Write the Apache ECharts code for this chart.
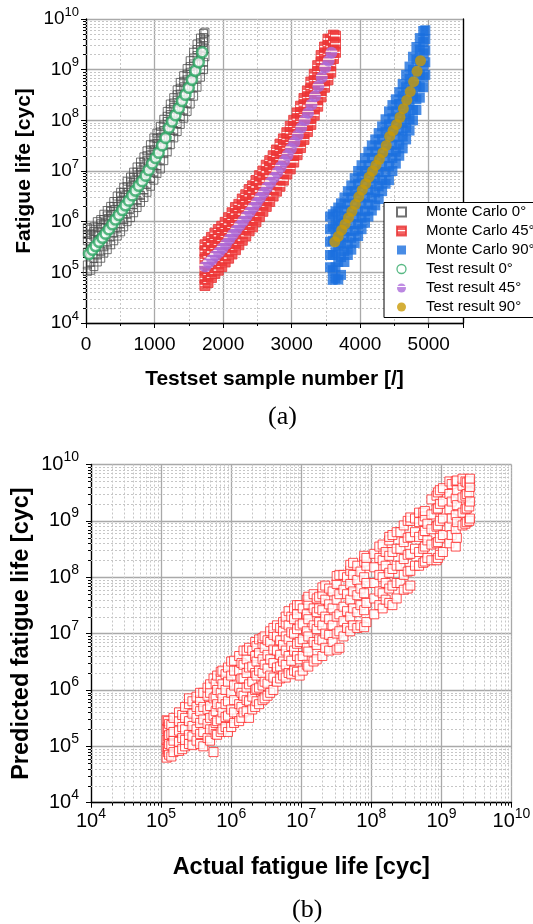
<!DOCTYPE html>
<html><head><meta charset="utf-8">
<script src="https://cdn.jsdelivr.net/npm/echarts@6/dist/echarts.min.js"></script>
<style>html,body{margin:0;padding:0;background:#fff}#c{width:533px;height:924px}</style>
</head><body><div id="c"></div><script>
// ---------- DATA: chart (a) ----------
const seriesNames = ['Monte Carlo 0°','Monte Carlo 45°','Monte Carlo 90°','Test result 0°','Test result 45°','Test result 90°'];
const xTickValuesA = [0,1000,2000,3000,4000,5000];

const test0X = [45,95,140,190,240,285,335,385,430,480,530,575,625,675,720,770,820,870,915,965,1015,1060,1110,1160,1210,1255,1305,1355,1400,1450,1500,1545,1595,1645,1695];
const test0Y = [2.3e5,2.8e5,3.3e5,4.0e5,4.8e5,5.8e5,7.1e5,8.9e5,1.1e6,1.35e6,1.7e6,2.1e6,2.6e6,3.3e6,4.1e6,5.1e6,6.3e6,8.1e6,1.05e7,1.4e7,1.8e7,2.3e7,3.2e7,4.5e7,7.1e7,9.5e7,1.26e8,1.74e8,2.4e8,3.2e8,4.4e8,6.3e8,9.5e8,1.4e9,2.2e9];

const test45X = [1740,1790,1840,1890,1940,1990,2040,2090,2140,2190,2240,2290,2340,2390,2440,2490,2540,2590,2640,2690,2740,2790,2840,2890,2940,2990,3040,3090,3140,3190,3240,3290,3340,3390,3440,3490,3540,3580];
const test45Y = [1.3e5,1.55e5,1.8e5,2.15e5,2.5e5,3.0e5,3.6e5,4.5e5,5.5e5,6.8e5,8.3e5,1.02e6,1.26e6,1.55e6,1.9e6,2.35e6,2.95e6,3.7e6,4.7e6,5.9e6,7.4e6,9.3e6,1.2e7,1.55e7,2.05e7,2.75e7,3.7e7,5.1e7,7.1e7,1.0e8,1.4e8,2.05e8,3.0e8,4.7e8,7.1e8,1.1e9,1.5e9,2.15e9];

const test90X = [3630,3680,3730,3780,3830,3880,3930,3980,4030,4080,4130,4180,4230,4280,4330,4380,4430,4480,4530,4580,4630,4680,4730,4780,4830,4880];
const test90Y = [4.0e5,5.1e5,6.8e5,8.9e5,1.2e6,1.6e6,2.2e6,3.1e6,4.2e6,5.6e6,7.6e6,1.0e7,1.3e7,1.7e7,2.3e7,3.2e7,4.8e7,6.3e7,8.3e7,1.15e8,1.7e8,2.5e8,3.7e8,5.8e8,9.3e8,1.5e9];

// Monte Carlo rows: [sample number, predicted lives...]
const mc0Rows = [
[20,7.6e5,4.2e5,2.5e5,1.4e5,1.05e5,5.6e5],[70,7.1e5,4.6e5,2.8e5,1.6e5,1.1e5,5.7e5],[115,7.9e5,5.2e5,3.2e5,1.9e5,1.3e5,6.4e5],
[165,1.0e6,6.0e5,4.2e5,2.2e5,1.6e5,7.8e5],[215,1.1e6,7.6e5,4.6e5,2.6e5,1.9e5,9.1e5],[260,1.4e6,8.9e5,5.6e5,3.2e5,2.4e5,1.1e6],
[310,1.66e6,1.05e6,6.9e5,3.8e5,2.8e5,1.3e6],[360,2.0e6,1.3e6,8.3e5,5.0e5,3.5e5,1.6e6],[405,2.5e6,1.6e6,1.05e6,6.0e5,4.2e5,2.0e6],
[455,3.2e6,2.0e6,1.26e6,7.6e5,5.2e5,2.5e6],[505,3.8e6,2.5e6,1.66e6,9.1e5,6.3e5,3.1e6],[550,4.8e6,3.0e6,2.0e6,1.1e6,7.9e5,3.8e6],
[600,6.3e6,3.8e6,2.5e6,1.4e6,1.0e6,4.9e6],[650,7.6e6,4.8e6,3.2e6,1.8e6,1.2e6,6.0e6],[695,9.5e6,6.0e6,4.0e6,2.2e6,1.5e6,7.5e6],
[745,1.2e7,7.6e6,5.0e6,2.6e6,1.9e6,9.5e6],[795,1.5e7,9.5e6,6.3e6,3.3e6,2.4e6,1.2e7],[845,1.9e7,1.2e7,7.9e6,4.2e6,3.0e6,1.5e7],
[890,2.5e7,1.6e7,1.0e7,5.5e6,3.8e6,2.0e7],[940,3.3e7,2.1e7,1.3e7,7.2e6,5.0e6,2.6e7],[990,4.5e7,2.6e7,1.8e7,9.5e6,6.6e6,3.4e7],
[1035,5.6e7,3.5e7,2.3e7,1.26e7,8.9e6,4.4e7],[1085,7.6e7,4.6e7,3.0e7,1.66e7,1.1e7,5.9e7],[1135,1.05e8,6.3e7,4.2e7,2.2e7,1.6e7,8.1e7],
[1185,1.5e8,9.5e7,6.3e7,3.3e7,2.4e7,1.2e8],[1230,2.1e8,1.3e8,8.9e7,4.8e7,3.3e7,1.65e8],[1280,2.8e8,1.8e8,1.2e8,6.3e7,4.5e7,2.2e8],
[1330,4.0e8,2.5e8,1.66e8,8.7e7,6.0e7,3.2e8],[1375,5.6e8,3.3e8,2.2e8,1.2e8,8.3e7,4.3e8],[1425,7.6e8,4.6e8,3.0e8,1.6e8,1.1e8,5.9e8],
[1475,1.05e9,6.3e8,4.2e8,2.2e8,1.5e8,8.1e8],[1520,1.5e9,8.9e8,5.8e8,3.2e8,2.1e8,1.15e9],[1570,2.2e9,1.3e9,8.3e8,4.5e8,3.0e8,1.7e9],
[1620,3.2e9,1.9e9,1.26e9,6.6e8,4.5e8,2.5e9],[1670,4.2e9,2.8e9,1.9e9,1.0e9,7.1e8,3.4e9],[1715,5.2e9,3.5e9,2.4e9,1.4e9,1.0e9,4.3e9],
[1735,5.5e9,4.0e9,2.6e9,1.8e9]
];
const mc45Rows = [
[1735,2.6e5,1.8e5,1.1e5,7.6e4,5.5e4,3.5e5],[1780,3.0e5,2.0e5,1.3e5,8.9e4,6.3e4,4.0e5],[1830,3.6e5,2.5e5,1.6e5,1.05e5,7.9e4,4.9e5],
[1880,4.4e5,2.9e5,1.9e5,1.26e5,9.5e4,5.9e5],[1930,5.2e5,3.5e5,2.2e5,1.45e5,1.1e5,7.0e5],[1980,6.0e5,4.2e5,2.6e5,1.7e5,1.3e5,8.1e5],
[2030,7.2e5,5.0e5,3.2e5,2.1e5,1.6e5,9.7e5],[2080,8.9e5,6.0e5,3.8e5,2.5e5,1.9e5,1.2e6],[2130,1.1e6,7.6e5,4.8e5,3.2e5,2.3e5,1.5e6],
[2180,1.4e6,9.1e5,5.8e5,3.8e5,2.8e5,1.9e6],[2230,1.66e6,1.1e6,7.2e5,4.8e5,3.5e5,2.2e6],[2280,2.1e6,1.4e6,8.7e5,5.8e5,4.3e5,2.8e6],
[2330,2.5e6,1.7e6,1.1e6,7.2e5,5.2e5,3.4e6],[2380,3.2e6,2.1e6,1.3e6,8.9e5,6.6e5,4.3e6],[2430,3.8e6,2.6e6,1.66e6,1.1e6,7.9e5,5.1e6],
[2480,4.8e6,3.2e6,2.0e6,1.3e6,1.0e6,6.5e6],[2530,6.0e6,4.0e6,2.5e6,1.66e6,1.26e6,8.1e6],[2580,7.6e6,5.0e6,3.2e6,2.1e6,1.6e6,1.0e7],
[2630,9.5e6,6.3e6,4.0e6,2.6e6,2.0e6,1.3e7],[2680,1.2e7,7.9e6,5.0e6,3.3e6,2.5e6,1.6e7],[2730,1.5e7,1.0e7,6.3e6,4.2e6,3.2e6,2.0e7],
[2780,1.9e7,1.26e7,7.9e6,5.2e6,4.0e6,2.6e7],[2830,2.5e7,1.66e7,1.05e7,6.9e6,5.0e6,3.4e7],[2880,3.2e7,2.1e7,1.3e7,8.9e6,6.6e6,4.3e7],
[2930,4.2e7,2.8e7,1.7e7,1.15e7,8.7e6,5.7e7],[2980,5.6e7,3.6e7,2.3e7,1.5e7,1.1e7,7.6e7],[3030,7.6e7,5.0e7,3.2e7,2.0e7,1.5e7,1.0e8],
[3080,1.05e8,6.9e7,4.4e7,2.8e7,2.1e7,1.4e8],[3130,1.4e8,9.5e7,6.0e7,4.0e7,2.9e7,1.9e8],[3180,2.0e8,1.3e8,8.3e7,5.5e7,4.2e7,2.7e8],
[3230,2.8e8,1.9e8,1.2e8,7.9e7,6.0e7,3.8e8],[3280,4.2e8,2.8e8,1.7e8,1.1e8,8.3e7,5.7e8],[3330,6.0e8,4.0e8,2.5e8,1.66e8,1.26e8,8.1e8],
[3380,9.1e8,6.0e8,3.8e8,2.5e8,1.9e8,1.2e9],[3430,1.4e9,9.1e8,5.8e8,3.8e8,2.9e8,1.9e9],[3480,2.1e9,1.4e9,8.9e8,6.0e8,4.5e8,2.8e9],
[3530,3.0e9,2.0e9,1.26e9,8.3e8,6.3e8,4.0e9],[3570,4.0e9,2.8e9,1.8e9,1.2e9,8.9e8],[3610,4.8e9,3.5e9,2.4e9,1.66e9],
[3640,4.6e9,3.2e9,2.2e9]
];
const mc90Rows = [
[3560,1.26e6,7.1e5,4.0e5,2.2e5,1.26e5],[3600,1.4e6,7.9e5,4.2e5,2.2e5,1.1e5,7.1e4],[3640,1.6e6,8.9e5,5.0e5,2.5e5,1.26e5,7.6e4],
[3680,1.9e6,1.05e6,6.0e5,3.2e5,1.6e5,7.2e4],[3720,2.3e6,1.26e6,7.2e5,3.8e5,2.0e5,8.9e4],[3770,3.0e6,1.66e6,9.5e5,5.0e5,2.6e5,1.6e5],
[3820,4.0e6,2.2e6,1.26e6,6.6e5,3.5e5,2.2e5],[3870,5.2e6,3.0e6,1.66e6,8.9e5,4.8e5,2.8e5],[3920,7.2e6,4.0e6,2.3e6,1.26e6,6.6e5,3.8e5],
[3970,1.0e7,5.6e6,3.2e6,1.66e6,8.9e5,5.2e5],[4020,1.3e7,7.6e6,4.2e6,2.3e6,1.2e6,7.1e5],[4070,1.8e7,1.0e7,5.8e6,3.0e6,1.6e6,9.5e5],
[4120,2.4e7,1.3e7,7.6e6,4.2e6,2.2e6,1.26e6],[4170,3.2e7,1.8e7,1.0e7,5.6e6,3.0e6,1.66e6],[4220,4.2e7,2.4e7,1.3e7,7.2e6,3.8e6,2.1e6],
[4270,5.6e7,3.2e7,1.8e7,9.5e6,5.0e6,2.8e6],[4320,7.6e7,4.2e7,2.3e7,1.26e7,6.6e6,4.0e6],[4370,1.05e8,6.0e7,3.3e7,1.8e7,9.5e6,5.6e6],
[4420,1.5e8,8.3e7,4.8e7,2.5e7,1.26e7,6.6e6],[4470,2.0e8,1.1e8,6.3e7,3.3e7,1.8e7,1.0e7],[4520,2.6e8,1.5e8,8.3e7,4.6e7,2.4e7,1.4e7],
[4570,3.6e8,2.1e8,1.15e8,6.3e7,3.3e7,2.0e7],[4620,5.2e8,3.0e8,1.66e8,8.9e7,4.8e7,2.8e7],[4670,7.9e8,4.5e8,2.5e8,1.3e8,7.1e7,4.2e7],
[4720,1.15e9,6.6e8,3.6e8,2.0e8,1.05e8,6.3e7],[4770,1.8e9,1.0e9,5.6e8,3.0e8,1.6e8,1.0e8],[4820,2.8e9,1.6e9,8.9e8,4.8e8,2.6e8,1.6e8],
[4870,4.2e9,2.5e9,1.45e9,7.9e8,4.5e8,2.8e8],[4920,5.8e9,3.5e9,2.1e9,1.2e9,7.1e8,4.5e8],[4950,6.0e9,4.0e9,2.4e9,1.4e9,7.9e8]
];

// ---------- DATA: chart (b) rows: [actual life, predicted lives...] ----------
const predRows = [
[1.2e5,6.3e4,9.5e4,1.3e5,2.0e5,2.9e5],[1.25e5,7.9e4,1.0e5,1.5e5,2.2e5,2.8e5],[1.3e5,7.1e4,1.1e5,1.6e5,2.5e5],
[1.4e5,6.6e4,1.05e5,1.66e5,2.4e5],[1.5e5,7.9e4,1.26e5,1.8e5,3.2e5],[1.8e5,8.3e4,1.2e5,1.9e5,2.8e5,4.0e5],
[2.0e5,8.9e4,1.4e5,2.2e5,3.6e5],[2.2e5,1.0e5,1.3e5,2.0e5,3.2e5,5.0e5],[2.5e5,1.1e5,1.6e5,2.8e5,5.6e5,7.1e5],
[2.8e5,1.05e5,1.5e5,2.3e5,3.8e5,6.3e5],[3.2e5,1.26e5,2.0e5,3.2e5,5.0e5,7.6e5],[3.6e5,1.1e5,1.66e5,2.6e5,4.2e5,6.6e5,8.9e5],
[4.0e5,1.0e5,1.8e5,3.0e5,5.0e5,8.9e5],[4.6e5,1.4e5,2.5e5,4.5e5,7.9e5,1.1e6],[5.0e5,1.26e5,2.0e5,3.2e5,5.2e5,8.9e5,1.26e6],
[5.6e5,7.9e4,2.0e5,3.5e5,7.1e5,1.6e6],[6.0e5,1.66e5,2.6e5,4.2e5,7.6e5,1.3e6],[6.3e5,1.6e5,2.8e5,5.6e5,1.0e6,1.8e6],
[7.1e5,1.8e5,3.0e5,5.0e5,8.9e5,1.6e6,2.1e6],[7.5e5,2.0e5,4.0e5,7.1e5,1.26e6,2.2e6],[8.3e5,2.2e5,3.3e5,5.6e5,1.0e6,1.9e6],
[9.0e5,1.8e5,3.5e5,6.3e5,1.4e6,2.5e6],[1.0e6,2.2e5,4.5e5,8.9e5,1.8e6,3.2e6],[1.1e6,2.6e5,4.0e5,6.6e5,1.2e6,2.2e6,3.3e6],
[1.3e6,2.8e5,5.6e5,1.1e6,2.2e6,4.0e6],[1.4e6,3.2e5,5.0e5,8.9e5,1.6e6,3.0e6],[1.5e6,4.0e5,7.9e5,1.6e6,2.8e6,5.0e6],
[1.66e6,4.2e5,6.6e5,1.1e6,2.0e6,3.5e6,5.0e6],[1.8e6,3.2e5,6.3e5,1.26e6,2.5e6,5.6e6],[2.0e6,4.5e5,7.6e5,1.4e6,2.6e6,5.0e6],
[2.2e6,5.0e5,1.0e6,2.0e6,4.0e6,7.1e6],[2.3e6,6.3e5,1.05e6,1.8e6,3.2e6,6.0e6],[2.5e6,5.6e5,1.1e6,2.2e6,4.5e6,7.9e6],
[2.8e6,6.6e5,1.2e6,2.0e6,3.5e6,6.6e6,8.3e6],[3.0e6,7.1e5,1.4e6,2.8e6,5.6e6,8.9e6],[3.3e6,7.9e5,1.3e6,2.4e6,4.2e6,7.6e6],
[3.6e6,8.9e5,1.8e6,3.5e6,7.1e6,1.1e7],[4.0e6,1.0e6,1.66e6,3.0e6,5.2e6,9.5e6,1.26e7],[4.5e6,1.4e6,2.5e6,5.0e6,8.9e6,1.4e7],
[5.0e6,1.6e6,2.6e6,4.2e6,7.6e6,1.26e7],[5.5e6,1.8e6,3.2e6,6.3e6,1.1e7,1.6e7],[6.0e6,1.66e6,2.8e6,5.0e6,8.9e6,1.5e7,2.0e7],
[6.6e6,2.0e6,4.0e6,7.9e6,1.4e7,2.5e7],[7.2e6,1.9e6,3.3e6,6.0e6,1.05e7,2.0e7],[7.9e6,2.2e6,5.0e6,1.0e7,1.8e7,2.8e7],
[8.7e6,2.1e6,4.0e6,6.6e6,1.2e7,2.2e7,3.2e7],[9.5e6,1.8e6,3.5e6,7.1e6,1.4e7,3.2e7],[1.05e7,2.2e6,4.0e6,7.9e6,1.5e7,2.8e7],
[1.2e7,2.8e6,5.6e6,1.1e7,2.2e7,4.0e7],[1.26e7,2.6e6,4.8e6,8.9e6,1.8e7,3.3e7,4.5e7],[1.5e7,3.2e6,7.1e6,1.4e7,2.8e7,5.0e7],
[1.66e7,3.5e6,6.3e6,1.2e7,2.4e7,4.2e7],[1.8e7,7.9e6,1.6e7,2.8e7,4.5e7],[2.0e7,4.0e6,7.6e6,1.4e7,2.6e7,5.0e7,6.6e7],
[2.2e7,5.6e6,1.0e7,2.0e7,4.0e7,7.1e7],[2.5e7,5.0e6,9.5e6,1.8e7,3.3e7,6.3e7],[2.8e7,7.1e6,1.4e7,2.8e7,5.6e7],
[3.2e7,5.2e6,1.0e7,2.0e7,4.0e7,7.6e7,1.05e8],[3.5e7,5.6e6,1.1e7,2.2e7,5.0e7,1.1e8],[4.0e7,8.9e6,1.66e7,3.0e7,6.0e7,1.1e8],
[4.5e7,1.26e7,2.5e7,5.0e7,1.0e8],[5.0e7,1.1e7,2.0e7,4.0e7,7.6e7,1.3e8,1.66e8],[5.5e7,1.4e7,2.8e7,5.6e7,1.1e8,1.8e8],
[6.3e7,1.26e7,2.4e7,4.8e7,8.9e7,1.6e8],[7.0e7,1.4e7,3.2e7,6.3e7,1.26e8],[7.9e7,1.3e7,2.6e7,5.2e7,1.0e8,1.9e8,2.4e8],
[8.5e7,1.6e7,3.5e7,7.9e7,1.6e8,2.2e8],[1.1e8,2.2e7,4.2e7,7.9e7,1.5e8,2.6e8],[1.3e8,3.2e7,5.6e7,1.1e8,2.2e8,3.5e8],
[1.45e8,2.8e7,5.2e7,1.0e8,2.0e8,3.8e8],[1.6e8,4.0e7,7.9e7,1.6e8,2.8e8],[1.8e8,3.5e7,6.3e7,1.2e8,2.4e8,4.5e8,5.2e8],
[2.0e8,3.2e7,7.1e7,1.4e8,2.8e8,5.6e8],[2.3e8,4.2e7,7.9e7,1.6e8,3.2e8,6.3e8],[2.6e8,7.9e7,1.6e8,3.2e8,6.3e8],
[2.9e8,6.0e7,1.1e8,2.1e8,4.2e8,8.3e8],[3.3e8,6.3e7,1.26e8,2.5e8,5.0e8,1.0e9],[3.6e8,7.1e7,1.3e8,2.6e8,5.2e8,1.0e9,1.15e9],
[4.2e8,1.6e8,3.2e8,6.3e8,1.1e9],[4.8e8,1.6e8,2.8e8,5.2e8,9.5e8,1.4e9],[5.5e8,1.8e8,3.2e8,5.6e8,1.0e9,1.4e9],
[5.8e8,1.9e8,3.5e8,6.6e8,1.2e9,1.5e9],[6.3e8,2.2e8,4.5e8,8.9e8],[7.2e8,2.0e8,3.8e8,7.1e8,1.3e9,2.4e9],
[8.5e8,2.0e8,4.0e8,7.9e8,1.6e9,2.8e9],[8.9e8,2.2e8,4.2e8,8.3e8,1.66e9,3.2e9],[9.5e8,2.5e8,5.0e8,1.0e9,2.0e9,3.5e9],
[1.05e9,2.8e8,5.6e8,1.1e9,2.2e9,3.8e9],[1.3e9,4.0e8,7.9e8,1.6e9,3.0e9,5.0e9],[1.4e9,5.6e8,1.1e9,2.2e9,4.5e9],
[1.6e9,3.5e8,7.1e8,1.26e9,2.5e9,5.0e9],[1.66e9,5.0e8,9.5e8,1.9e9,3.5e9,5.2e9],[2.0e9,8.3e8,1.4e9,2.6e9,4.2e9,5.6e9],
[2.2e9,8.9e8,1.6e9,2.8e9,5.0e9],[2.3e9,9.5e8,1.66e9,3.0e9,4.8e9],[2.5e9,1.0e9,1.8e9,3.2e9,5.0e9],
[2.55e9,1.1e9,2.2e9,4.0e9,5.6e9]
];

// ---------- helpers ----------
const FONT = '"Liberation Sans", Arial, sans-serif';
function rowsToPoints(rows){ const p=[]; rows.forEach(r=>{ for(let i=1;i<r.length;i++) p.push([r[0], r[i]]); }); return p; }
function zip(xs, ys){ return xs.map((x,i)=>[x, ys[i]]); }
function pow10(v){ const e = Math.round(Math.log10(v)); return '{b|10}{s|' + e + '}'; }
function richSup(bs, ss, pad){ return {
  b:{fontFamily:FONT, fontSize:bs, lineHeight:bs, color:'#000', verticalAlign:'middle'},
  s:{fontFamily:FONT, fontSize:ss, lineHeight:ss, color:'#000', verticalAlign:'middle', padding:[0,0,pad,0]} }; }
// minor (2..9 x 10^n) positions for log axes
const minorLog = [];
for (let e = 4; e < 10; e++) for (let m = 2; m <= 9; m++) minorLog.push(m * Math.pow(10, e));
const minorLinA = [500,1500,2500,3500,4500];

function minorSeries(xi, yi, data, dir, tick){
  return { type:'custom', xAxisIndex:xi, yAxisIndex:yi, silent:true, z:1, clip:false, animation:false,
    data:data,
    renderItem:function(params, api){
      const cs = params.coordSys;
      const p = api.coord([api.value(0), api.value(1)]);
      const dash = {stroke:'#c6c6c6', lineWidth:1, lineDash:[2,2]};
      const tk = {stroke:'#000', lineWidth:1};
      if (dir === 'y') {
        const y = Math.round(p[1]) + 0.5;
        return {type:'group', children:[
          {type:'line', shape:{x1:cs.x, y1:y, x2:cs.x+cs.width, y2:y}, style:dash},
          {type:'line', shape:{x1:cs.x-tick, y1:y, x2:cs.x, y2:y}, style:tk}]};
      }
      const x = Math.round(p[0]) + 0.5;
      return {type:'group', children:[
        {type:'line', shape:{x1:x, y1:cs.y, x2:x, y2:cs.y+cs.height}, style:dash},
        {type:'line', shape:{x1:x, y1:cs.y+cs.height, x2:x, y2:cs.y+cs.height+tick}, style:tk}]};
    }
  };
}

const RED = '#f03a3a', PURPLE = '#b070dc';
const redFill = {type:'linear', x:0, y:0, x2:0, y2:1, colorStops:[
  {offset:0,color:RED},{offset:0.42,color:RED},{offset:0.44,color:'#ffffff'},{offset:0.53,color:'#ffffff'},{offset:0.55,color:RED},{offset:1,color:RED}]};
const purpleFill = {type:'linear', x:0, y:0, x2:0, y2:1, colorStops:[
  {offset:0,color:PURPLE},{offset:0.30,color:PURPLE},{offset:0.32,color:'#ffffff'},{offset:0.42,color:'#ffffff'},{offset:0.44,color:PURPLE},{offset:1,color:'#a766d8'}]};

const axisLineBlack = {show:true, lineStyle:{color:'#000', width:1.3}};
const majorSplit = {show:true, lineStyle:{color:'#a9a9a9', width:1.3}};
const nameStyleA = {fontFamily:FONT, fontSize:21, fontWeight:'bold', color:'#000'};
const nameStyleB = {fontFamily:FONT, fontSize:23.5, fontWeight:'bold', color:'#000'};

const chart = echarts.init(document.getElementById('c'), null, {renderer:'canvas'});
chart.setOption({
  animation:false,
  backgroundColor:'#fff',
  title:[
    {text:'(a)', left:263, top:399, textStyle:{fontFamily:'"Liberation Serif", "Times New Roman", serif', fontSize:26, fontWeight:'normal', color:'#000'}},
    {text:'(b)', left:287, top:892, textStyle:{fontFamily:'"Liberation Serif", "Times New Roman", serif', fontSize:26, fontWeight:'normal', color:'#000'}}
  ],
  grid:[
    {left:86, right:70, top:19, bottom:601, outerBoundsMode:'none'},
    {left:91, right:21.5, top:464.5, bottom:121.3, outerBoundsMode:'none'}
  ],
  legend:{
    orient:'vertical', left:384, top:202.5, padding:[0,40,1,12], itemGap:0, itemWidth:9, itemHeight:9,
    backgroundColor:'#fff', borderColor:'#000', borderWidth:1, borderRadius:0, selectedMode:false,
    textStyle:{fontFamily:FONT, fontSize:15, color:'#000', lineHeight:19, padding:[0,0,0,15]},
    data:[
      {name:seriesNames[0]}, {name:seriesNames[1]}, {name:seriesNames[2]},
      {name:seriesNames[3], itemStyle:{borderWidth:1.3}}, {name:seriesNames[4]}, {name:seriesNames[5]}
    ]
  },
  xAxis:[
    {gridIndex:0, type:'value', min:0, max:5500, interval:1000,
      name:'Testset sample number [/]', nameLocation:'middle', nameGap:46, nameMoveOverlap:false, nameTextStyle:nameStyleA,
      axisLine:axisLineBlack, axisTick:{show:true, length:5, lineStyle:{color:'#000'}},
      axisLabel:{fontFamily:FONT, fontSize:19, lineHeight:19, color:'#000', margin:12,
        formatter:v => xTickValuesA.indexOf(v) >= 0 ? String(v) : ''},
      splitLine:majorSplit},
    {gridIndex:1, type:'log', logBase:10, min:1e4, max:1e10, splitNumber:6,
      name:'Actual fatigue life [cyc]', nameLocation:'middle', nameGap:53, nameMoveOverlap:false, nameTextStyle:nameStyleB,
      axisLine:axisLineBlack, axisTick:{show:true, length:5, lineStyle:{color:'#000'}},
      axisLabel:{formatter:pow10, rich:richSup(20,14,15), margin:9},
      splitLine:majorSplit}
  ],
  yAxis:[
    {gridIndex:0, type:'log', logBase:10, min:1e4, max:1e10, splitNumber:6,
      name:'Fatigue life [cyc]', nameLocation:'middle', nameGap:51, nameMoveOverlap:false, nameTextStyle:nameStyleA,
      axisLine:axisLineBlack, axisTick:{show:true, length:5, lineStyle:{color:'#000'}},
      axisLabel:{formatter:pow10, rich:richSup(19,13,14), margin:7},
      splitLine:majorSplit},
    {gridIndex:0, type:'log', logBase:10, min:1e4, max:1e10, position:'right',
      axisLine:axisLineBlack, axisTick:{show:false}, axisLabel:{show:false}, splitLine:{show:false}},
    {gridIndex:1, type:'log', logBase:10, min:1e4, max:1e10, splitNumber:6,
      name:'Predicted fatigue life [cyc]', nameLocation:'middle', nameGap:57, nameMoveOverlap:false, nameTextStyle:nameStyleB,
      axisLine:axisLineBlack, axisTick:{show:true, length:5, lineStyle:{color:'#000'}},
      axisLabel:{formatter:pow10, rich:richSup(20,14,15), margin:12},
      splitLine:majorSplit}
  ],
  series:[
    {name:seriesNames[0], type:'scatter', xAxisIndex:0, yAxisIndex:0, symbol:'rect', symbolSize:8,
      itemStyle:{color:'rgba(255,255,255,0)', borderColor:'#4e4e4e', borderWidth:1}, emphasis:{disabled:true}, silent:true,
      data:rowsToPoints(mc0Rows)},
    {name:seriesNames[1], type:'scatter', xAxisIndex:0, yAxisIndex:0, symbol:'rect', symbolSize:10,
      itemStyle:{color:redFill, borderColor:'#e83436', borderWidth:1}, emphasis:{disabled:true}, silent:true,
      data:rowsToPoints(mc45Rows)},
    {name:seriesNames[2], type:'scatter', xAxisIndex:0, yAxisIndex:0, symbol:'rect', symbolSize:10,
      itemStyle:{color:'#1a6fdf'}, emphasis:{disabled:true}, silent:true,
      data:rowsToPoints(mc90Rows)},
    {name:seriesNames[3], type:'scatter', xAxisIndex:0, yAxisIndex:0, symbol:'circle', symbolSize:10,
      itemStyle:{color:'#fff', borderColor:'#2ea865', borderWidth:2.6}, emphasis:{disabled:true}, silent:true,
      data:zip(test0X, test0Y)},
    {name:seriesNames[4], type:'scatter', xAxisIndex:0, yAxisIndex:0, symbol:'circle', symbolSize:12,
      itemStyle:{color:purpleFill}, emphasis:{disabled:true}, silent:true,
      data:zip(test45X, test45Y)},
    {name:seriesNames[5], type:'scatter', xAxisIndex:0, yAxisIndex:0, symbol:'circle', symbolSize:11,
      itemStyle:{color:'#c99a06'}, emphasis:{disabled:true}, silent:true,
      data:zip(test90X, test90Y)},
    {name:'Predicted vs actual', type:'scatter', xAxisIndex:1, yAxisIndex:2, symbol:'rect', symbolSize:9,
      itemStyle:{color:'#fff', borderColor:'#ff2626', borderWidth:1}, emphasis:{disabled:true}, silent:true,
      data:rowsToPoints(predRows)},
    minorSeries(0, 0, minorLog.map(v => [0, v]), 'y', 3),
    minorSeries(0, 0, minorLinA.map(v => [v, 1e4]), 'x', 3),
    minorSeries(1, 2, minorLog.map(v => [1e4, v]), 'y', 3),
    minorSeries(1, 2, minorLog.map(v => [v, 1e4]), 'x', 3)
  ]
});
</script></body></html>
